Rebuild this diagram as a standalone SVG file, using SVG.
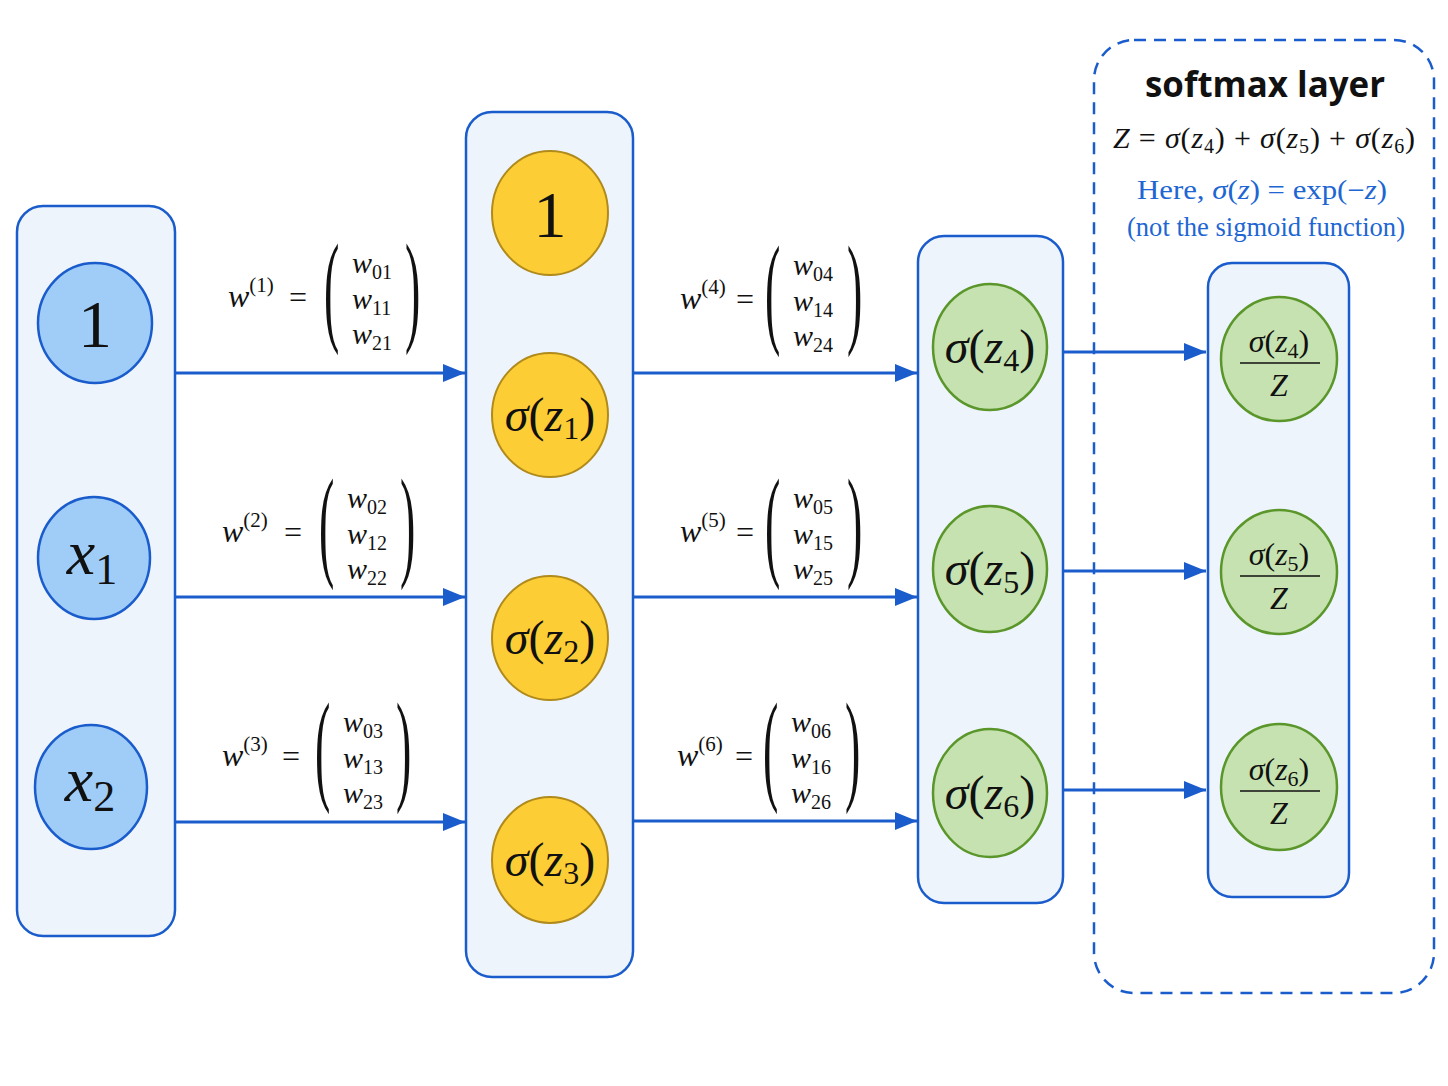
<svg xmlns="http://www.w3.org/2000/svg" width="1448" height="1086" viewBox="0 0 1448 1086">
<defs>
<style>
.box{fill:#edf4fc;stroke:#1a5ccc;stroke-width:2.5}
.dash{fill:none;stroke:#1a5ccc;stroke-width:2.5;stroke-dasharray:12 8}
.cb{fill:#9fcdf8;stroke:#1a5ccc;stroke-width:2.5}
.cy{fill:#fdcd35;stroke:#b08a1a;stroke-width:2}
.cg{fill:#c6e2b0;stroke:#5a962a;stroke-width:2.5}
.m{font-family:"Liberation Serif","DejaVu Serif",serif;fill:#111}
.i{font-style:italic}
.blue{fill:#2066d3}
.conn line{stroke:#1a5ccc;stroke-width:3.2;marker-end:url(#ah)}
.frac{stroke:#111;stroke-width:1.6}
.wl{font-size:32px}
.we{font-size:30px}
.par{font-size:46px}
</style>
<marker id="ah" viewBox="0 0 22 18" refX="22" refY="9" markerWidth="22" markerHeight="18" markerUnits="userSpaceOnUse" orient="auto">
<path d="M0,0 L22,9 L0,18 z" fill="#1a5ccc"/>
</marker>
</defs>
<rect width="1448" height="1086" fill="#ffffff"/>

<g id="softmax-group">
<rect class="dash" x="1094" y="40" width="340" height="953" rx="40"/>
<text x="1265" y="97" font-family="'Open Sans','Liberation Sans',sans-serif" font-weight="bold" font-size="35" fill="#111" text-anchor="middle" textLength="240" lengthAdjust="spacingAndGlyphs">softmax layer</text>
<text class="m" x="1113" y="148" font-size="30" textLength="302" lengthAdjust="spacing"><tspan class="i">Z</tspan> = <tspan class="i">σ</tspan>(<tspan class="i">z</tspan><tspan font-size="20" dy="5">4</tspan><tspan dy="-5">) + </tspan><tspan class="i">σ</tspan>(<tspan class="i">z</tspan><tspan font-size="20" dy="5">5</tspan><tspan dy="-5">) + </tspan><tspan class="i">σ</tspan>(<tspan class="i">z</tspan><tspan font-size="20" dy="5">6</tspan><tspan dy="-5">)</tspan></text>
<text class="m blue" x="1137" y="199" font-size="27" textLength="250" lengthAdjust="spacingAndGlyphs">Here, <tspan class="i">σ</tspan>(<tspan class="i">z</tspan>) = exp(−<tspan class="i">z</tspan>)</text>
<text class="m blue" x="1127" y="236" font-size="27" textLength="278" lengthAdjust="spacingAndGlyphs">(not the sigmoid function)</text>
</g>

<g id="input-layer"><rect class="box" x="17" y="206" width="158" height="730" rx="26"/></g>
<g id="hidden-layer"><rect class="box" x="466" y="112" width="167" height="865" rx="26"/></g>
<g id="output-layer"><rect class="box" x="918" y="236" width="145" height="667" rx="26"/></g>
<g id="softmax-layer"><rect class="box" x="1208" y="263" width="141" height="634" rx="24"/></g>

<g id="connectors" class="conn">
<line x1="176" y1="373" x2="465" y2="373"/>
<line x1="176" y1="597" x2="465" y2="597"/>
<line x1="176" y1="822" x2="465" y2="822"/>
<line x1="634" y1="373" x2="917" y2="373"/>
<line x1="634" y1="597" x2="917" y2="597"/>
<line x1="634" y1="821" x2="917" y2="821"/>
<line x1="1064" y1="352" x2="1206" y2="352"/>
<line x1="1064" y1="571" x2="1206" y2="571"/>
<line x1="1064" y1="790" x2="1206" y2="790"/>
</g>

<g id="weights" class="m">
<g id="w1">
<text class="wl" x="228" y="307"><tspan class="i">w</tspan><tspan font-size="21" dy="-15">(1)</tspan></text>
<text class="wl" x="289" y="308">=</text>
<text class="par" transform="translate(324,329) scale(1,2.65)">(</text>
<text class="we" x="352" y="273"><tspan class="i">w</tspan><tspan font-size="20" dy="6">01</tspan></text>
<text class="we" x="352" y="309"><tspan class="i">w</tspan><tspan font-size="20" dy="6">11</tspan></text>
<text class="we" x="352" y="344"><tspan class="i">w</tspan><tspan font-size="20" dy="6">21</tspan></text>
<text class="par" transform="translate(405,329) scale(1,2.65)">)</text>
</g>
<g id="w2">
<text class="wl" x="222" y="542"><tspan class="i">w</tspan><tspan font-size="21" dy="-15">(2)</tspan></text>
<text class="wl" x="284" y="543">=</text>
<text class="par" transform="translate(319,564) scale(1,2.65)">(</text>
<text class="we" x="347" y="508"><tspan class="i">w</tspan><tspan font-size="20" dy="6">02</tspan></text>
<text class="we" x="347" y="544"><tspan class="i">w</tspan><tspan font-size="20" dy="6">12</tspan></text>
<text class="we" x="347" y="579"><tspan class="i">w</tspan><tspan font-size="20" dy="6">22</tspan></text>
<text class="par" transform="translate(400,564) scale(1,2.65)">)</text>
</g>
<g id="w3">
<text class="wl" x="222" y="766"><tspan class="i">w</tspan><tspan font-size="21" dy="-15">(3)</tspan></text>
<text class="wl" x="282" y="767">=</text>
<text class="par" transform="translate(315,788) scale(1,2.65)">(</text>
<text class="we" x="343" y="732"><tspan class="i">w</tspan><tspan font-size="20" dy="6">03</tspan></text>
<text class="we" x="343" y="768"><tspan class="i">w</tspan><tspan font-size="20" dy="6">13</tspan></text>
<text class="we" x="343" y="803"><tspan class="i">w</tspan><tspan font-size="20" dy="6">23</tspan></text>
<text class="par" transform="translate(396,788) scale(1,2.65)">)</text>
</g>
<g id="w4">
<text class="wl" x="680" y="309"><tspan class="i">w</tspan><tspan font-size="21" dy="-15">(4)</tspan></text>
<text class="wl" x="736" y="310">=</text>
<text class="par" transform="translate(765,331) scale(1,2.65)">(</text>
<text class="we" x="793" y="275"><tspan class="i">w</tspan><tspan font-size="20" dy="6">04</tspan></text>
<text class="we" x="793" y="311"><tspan class="i">w</tspan><tspan font-size="20" dy="6">14</tspan></text>
<text class="we" x="793" y="346"><tspan class="i">w</tspan><tspan font-size="20" dy="6">24</tspan></text>
<text class="par" transform="translate(847,331) scale(1,2.65)">)</text>
</g>
<g id="w5">
<text class="wl" x="680" y="542"><tspan class="i">w</tspan><tspan font-size="21" dy="-15">(5)</tspan></text>
<text class="wl" x="736" y="543">=</text>
<text class="par" transform="translate(765,564) scale(1,2.65)">(</text>
<text class="we" x="793" y="508"><tspan class="i">w</tspan><tspan font-size="20" dy="6">05</tspan></text>
<text class="we" x="793" y="544"><tspan class="i">w</tspan><tspan font-size="20" dy="6">15</tspan></text>
<text class="we" x="793" y="579"><tspan class="i">w</tspan><tspan font-size="20" dy="6">25</tspan></text>
<text class="par" transform="translate(847,564) scale(1,2.65)">)</text>
</g>
<g id="w6">
<text class="wl" x="677" y="766"><tspan class="i">w</tspan><tspan font-size="21" dy="-15">(6)</tspan></text>
<text class="wl" x="735" y="767">=</text>
<text class="par" transform="translate(763,788) scale(1,2.65)">(</text>
<text class="we" x="791" y="732"><tspan class="i">w</tspan><tspan font-size="20" dy="6">06</tspan></text>
<text class="we" x="791" y="768"><tspan class="i">w</tspan><tspan font-size="20" dy="6">16</tspan></text>
<text class="we" x="791" y="803"><tspan class="i">w</tspan><tspan font-size="20" dy="6">26</tspan></text>
<text class="par" transform="translate(845,788) scale(1,2.65)">)</text>
</g>
</g>

<g id="in-bias"><ellipse class="cb" cx="95" cy="323" rx="57" ry="60"/><text class="m" x="95" y="347" font-size="68" text-anchor="middle">1</text></g>
<g id="in-x1"><ellipse class="cb" cx="94" cy="558" rx="56" ry="61"/><text class="m" x="92" y="574" font-size="64" text-anchor="middle"><tspan class="i">x</tspan><tspan font-size="44" dy="10">1</tspan></text></g>
<g id="in-x2"><ellipse class="cb" cx="91" cy="787" rx="56" ry="62"/><text class="m" x="90" y="801" font-size="64" text-anchor="middle"><tspan class="i">x</tspan><tspan font-size="44" dy="10">2</tspan></text></g>

<g id="h-bias"><ellipse class="cy" cx="550" cy="213" rx="58" ry="62"/><text class="m" x="550" y="237" font-size="66" text-anchor="middle">1</text></g>
<g id="h-z1"><ellipse class="cy" cx="550" cy="415" rx="58" ry="62"/><text class="m" x="550" y="431" font-size="48" text-anchor="middle"><tspan class="i">σ</tspan>(<tspan class="i">z</tspan><tspan font-size="32" dy="8">1</tspan><tspan dy="-8">)</tspan></text></g>
<g id="h-z2"><ellipse class="cy" cx="550" cy="638" rx="58" ry="62"/><text class="m" x="550" y="654" font-size="48" text-anchor="middle"><tspan class="i">σ</tspan>(<tspan class="i">z</tspan><tspan font-size="32" dy="8">2</tspan><tspan dy="-8">)</tspan></text></g>
<g id="h-z3"><ellipse class="cy" cx="550" cy="860" rx="58" ry="63"/><text class="m" x="550" y="876" font-size="48" text-anchor="middle"><tspan class="i">σ</tspan>(<tspan class="i">z</tspan><tspan font-size="32" dy="8">3</tspan><tspan dy="-8">)</tspan></text></g>

<g id="o-z4"><ellipse class="cg" cx="990" cy="347" rx="57" ry="63"/><text class="m" x="990" y="363" font-size="48" text-anchor="middle"><tspan class="i">σ</tspan>(<tspan class="i">z</tspan><tspan font-size="32" dy="8">4</tspan><tspan dy="-8">)</tspan></text></g>
<g id="o-z5"><ellipse class="cg" cx="990" cy="569" rx="57" ry="63"/><text class="m" x="990" y="585" font-size="48" text-anchor="middle"><tspan class="i">σ</tspan>(<tspan class="i">z</tspan><tspan font-size="32" dy="8">5</tspan><tspan dy="-8">)</tspan></text></g>
<g id="o-z6"><ellipse class="cg" cx="990" cy="793" rx="57" ry="64"/><text class="m" x="990" y="809" font-size="48" text-anchor="middle"><tspan class="i">σ</tspan>(<tspan class="i">z</tspan><tspan font-size="32" dy="8">6</tspan><tspan dy="-8">)</tspan></text></g>

<g id="s-z4"><ellipse class="cg" cx="1279" cy="359" rx="58" ry="62"/><text class="m" x="1279" y="352" font-size="32" text-anchor="middle"><tspan class="i">σ</tspan>(<tspan class="i">z</tspan><tspan font-size="22" dy="6">4</tspan><tspan dy="-6">)</tspan></text><line class="frac" x1="1240" y1="363" x2="1320" y2="363"/><text class="m i" x="1279" y="396" font-size="32" text-anchor="middle">Z</text></g>
<g id="s-z5"><ellipse class="cg" cx="1279" cy="572" rx="58" ry="62"/><text class="m" x="1279" y="565" font-size="32" text-anchor="middle"><tspan class="i">σ</tspan>(<tspan class="i">z</tspan><tspan font-size="22" dy="6">5</tspan><tspan dy="-6">)</tspan></text><line class="frac" x1="1240" y1="576" x2="1320" y2="576"/><text class="m i" x="1279" y="609" font-size="32" text-anchor="middle">Z</text></g>
<g id="s-z6"><ellipse class="cg" cx="1279" cy="787" rx="58" ry="63"/><text class="m" x="1279" y="780" font-size="32" text-anchor="middle"><tspan class="i">σ</tspan>(<tspan class="i">z</tspan><tspan font-size="22" dy="6">6</tspan><tspan dy="-6">)</tspan></text><line class="frac" x1="1240" y1="791" x2="1320" y2="791"/><text class="m i" x="1279" y="824" font-size="32" text-anchor="middle">Z</text></g>
</svg>
